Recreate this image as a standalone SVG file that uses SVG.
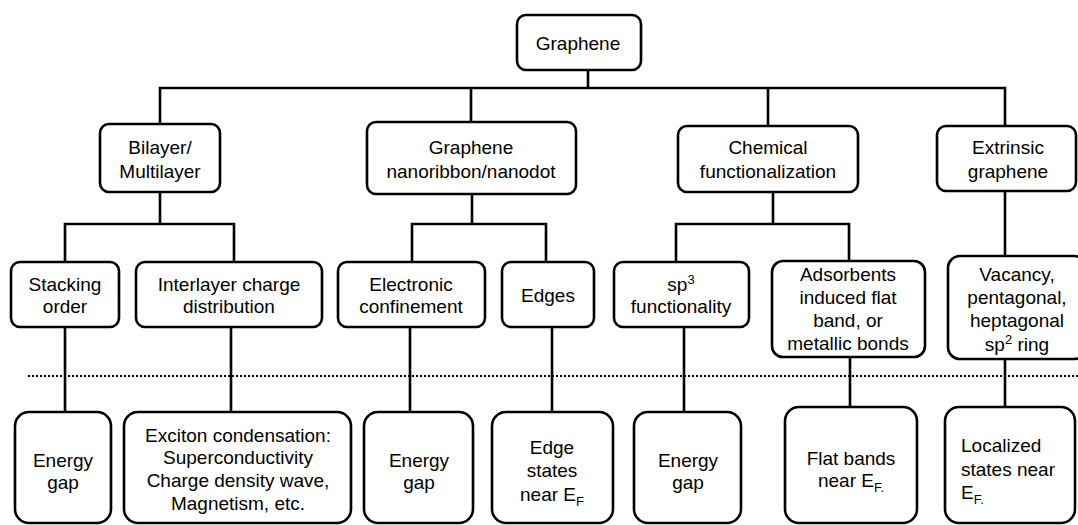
<svg xmlns="http://www.w3.org/2000/svg" width="1078" height="525" viewBox="0 0 1078 525">
<style>
.box{fill:#fff;stroke:#000;stroke-width:2.6}
.ln{fill:none;stroke:#000;stroke-width:2.6;stroke-linecap:square}
.dot{fill:none;stroke:#000;stroke-width:2;stroke-dasharray:2 2}
text{font-family:"Liberation Sans",Arial,sans-serif;font-size:19px;fill:#000;text-anchor:middle}
.l{text-anchor:start}
</style>
<rect width="1078" height="525" fill="#fff"/>
<g id="connectors">
<path class="ln" d="M588,70V88M160,88H1005M160,88V124M471,88V122M768,88V126M1005,88V126"/>
<path class="ln" d="M160,192V224M65,224H234M65,224V262M234,224V262"/>
<path class="ln" d="M472,194V224M412,224H546M412,224V262M546,224V262"/>
<path class="ln" d="M773,192V224M676,224H849M676,224V262M849,224V261"/>
<path class="ln" d="M1005,191V256"/>
<path class="ln" d="M65,327V412M231,327V412M410,327V412M552,327V412M684,327V412M850,357V407M1005,359V407"/>
<line class="dot" x1="28" y1="376" x2="1078" y2="376"/>
</g>
<g id="graphene"><rect class="box" x="517" y="15" width="124" height="55" rx="9"/><text x="578" y="50">Graphene</text></g>
<g id="bilayer"><rect class="box" x="100" y="124" width="120" height="68" rx="9"/><text x="160" y="154">Bilayer/</text><text x="160" y="178">Multilayer</text></g>
<g id="nanoribbon"><rect class="box" x="367" y="122" width="209" height="72" rx="9"/><text x="471" y="154">Graphene</text><text x="471" y="178">nanoribbon/nanodot</text></g>
<g id="chemical"><rect class="box" x="678" y="126" width="180" height="66" rx="9"/><text x="768" y="154">Chemical</text><text x="768" y="178">functionalization</text></g>
<g id="extrinsic"><rect class="box" x="937" y="126" width="139" height="65" rx="9"/><text x="1008" y="154">Extrinsic</text><text x="1008" y="178">graphene</text></g>
<g id="stacking"><rect class="box" x="11" y="262" width="108" height="65" rx="9"/><text x="65" y="291">Stacking</text><text x="65" y="313">order</text></g>
<g id="interlayer"><rect class="box" x="136" y="262" width="186" height="65" rx="9"/><text x="229" y="291">Interlayer charge</text><text x="229" y="313">distribution</text></g>
<g id="electronic"><rect class="box" x="338" y="262" width="147" height="65" rx="9"/><text x="411" y="291">Electronic</text><text x="411" y="313">confinement</text></g>
<g id="edges"><rect class="box" x="502" y="262" width="92" height="65" rx="9"/><text x="548" y="302">Edges</text></g>
<g id="sp3"><rect class="box" x="614" y="262" width="135" height="65" rx="9"/><text x="681" y="291">sp<tspan dy="-7" font-size="13">3</tspan></text><text x="681" y="313">functionality</text></g>
<g id="adsorbents"><rect class="box" x="772" y="261" width="153" height="96" rx="11"/><text x="848" y="281">Adsorbents</text><text x="848" y="304">induced flat</text><text x="848" y="327">band, or</text><text x="848" y="350">metallic bonds</text></g>
<g id="vacancy"><rect class="box" x="948" y="256" width="138" height="103" rx="12"/><text x="1017" y="281">Vacancy,</text><text x="1017" y="304">pentagonal,</text><text x="1017" y="327">heptagonal</text><text x="1017" y="351">sp<tspan dy="-7" font-size="13">2</tspan><tspan dy="7"> ring</tspan></text></g>
<g id="gap1"><rect class="box" x="15" y="412" width="96" height="111" rx="14"/><text x="63" y="467">Energy</text><text x="63" y="489">gap</text></g>
<g id="exciton"><rect class="box" x="124" y="412" width="227" height="111" rx="14"/><text x="238" y="442">Exciton condensation:</text><text x="238" y="464">Superconductivity</text><text x="238" y="487">Charge density wave,</text><text x="238" y="510">Magnetism, etc.</text></g>
<g id="gap2"><rect class="box" x="364" y="412" width="109" height="111" rx="14"/><text x="419" y="467">Energy</text><text x="419" y="489">gap</text></g>
<g id="edgestates"><rect class="box" x="492" y="412" width="121" height="111" rx="14"/><text x="552" y="454">Edge</text><text x="552" y="477">states</text><text x="552" y="501">near E<tspan dy="5" font-size="13">F</tspan></text></g>
<g id="gap3"><rect class="box" x="634" y="412" width="107" height="111" rx="14"/><text x="688" y="467">Energy</text><text x="688" y="489">gap</text></g>
<g id="flatbands"><rect class="box" x="785" y="407" width="132" height="116" rx="14"/><text x="851" y="465">Flat bands</text><text x="851" y="487">near E<tspan dy="5" font-size="13">F.</tspan></text></g>
<g id="localized"><rect class="box" x="945" y="407" width="130" height="116" rx="14"/><text class="l" x="961" y="452">Localized</text><text class="l" x="961" y="476">states near</text><text class="l" x="961" y="499">E<tspan dy="5" font-size="13">F.</tspan></text></g>
</svg>
